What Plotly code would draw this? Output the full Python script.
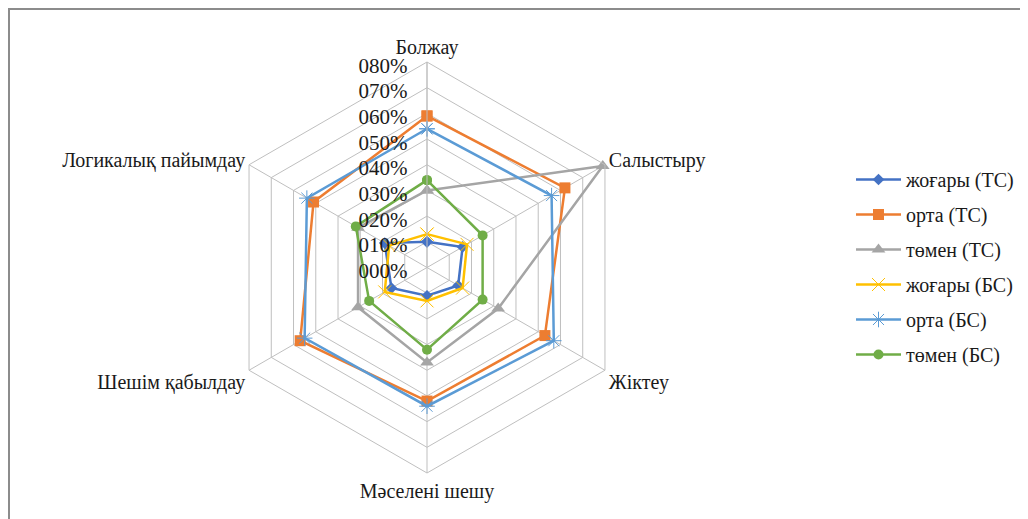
import plotly.graph_objects as go

categories = ["Болжау", "Салыстыру", "Жіктеу", "Мәселені шешу", "Шешім қабылдау", "Логикалық пайымдау"]
series_names = ["жоғары (ТС)", "орта (ТС)", "төмен (ТС)", "жоғары (БС)", "орта (БС)", "төмен (БС)"]
zhogary_ts = [0.10, 0.16, 0.14, 0.11, 0.16, 0.19]
orta_ts = [0.59, 0.62, 0.53, 0.52, 0.57, 0.51]
tomen_ts = [0.30, 0.79, 0.32, 0.37, 0.31, 0.31]
zhogary_bs = [0.13, 0.18, 0.16, 0.13, 0.19, 0.17]
orta_bs = [0.54, 0.56, 0.57, 0.54, 0.55, 0.54]
tomen_bs = [0.34, 0.25, 0.25, 0.32, 0.26, 0.32]
tick_vals = [0.0, 0.1, 0.2, 0.3, 0.4, 0.5, 0.6, 0.7, 0.8]
tick_text = ["000%", "010%", "020%", "030%", "040%", "050%", "060%", "070%", "080%"]

all_values = [zhogary_ts, orta_ts, tomen_ts, zhogary_bs, orta_bs, tomen_bs]
colors = ["#4472C4", "#ED7D31", "#A5A5A5", "#FFC000", "#5B9BD5", "#70AD47"]
symbols = ["diamond", "square", "triangle-up", "x-thin", "asterisk", "circle"]
sizes = [9, 11, 12, 13, 13, 10]

FONT = "Liberation Serif, Times New Roman, serif"

fig = go.Figure()
for i, (name, vals) in enumerate(zip(series_names, all_values)):
    thin = symbols[i] in ("x-thin", "asterisk")
    fig.add_trace(go.Scatterpolar(
        r=vals + vals[:1],
        theta=categories + categories[:1],
        mode="lines+markers",
        name=name,
        legendgroup=f"g{i}",
        line=dict(color=colors[i], width=2.5),
        marker=dict(symbol=symbols[i], size=sizes[i], color=colors[i],
                    line=dict(color=colors[i], width=1 if thin else 0)),
    ))

# page is offset by the 8px body margin
W, H = 1028, 519
cx, cy, R = 419, 259.5, 205.5
fig.update_layout(
    width=W, height=H,
    margin=dict(l=0, r=0, t=0, b=0),
    paper_bgcolor="white",
    plot_bgcolor="white",
    font=dict(family=FONT, size=19, color="#1a1a1a"),
    polar=dict(
        domain=dict(x=[(cx - R) / W, (cx + R) / W],
                    y=[(H - cy - R) / H, (H - cy + R) / H]),
        bgcolor="white",
        gridshape="linear",
        radialaxis=dict(
            range=[0, 0.8],
            tickvals=tick_vals,
            ticktext=tick_text,
            angle=90,
            side="counterclockwise",
            showline=True,
            linecolor="#BFBFBF",
            linewidth=1,
            gridcolor="#BFBFBF",
            gridwidth=1,
            ticks="",
            tickfont=dict(family=FONT, size=21, color="#1a1a1a"),
        ),
        angularaxis=dict(
            direction="clockwise",
            rotation=90,
            showline=True,
            linecolor="#BFBFBF",
            linewidth=1,
            gridcolor="#BFBFBF",
            ticks="",
            tickfont=dict(family=FONT, size=20, color="#1a1a1a"),
        ),
    ),
    legend=dict(
        x=843 / W, y=(H - 152) / H,
        xanchor="left", yanchor="top",
        tracegroupgap=6,
        itemwidth=45,
        font=dict(family=FONT, size=20, color="#1a1a1a"),
        bgcolor="rgba(0,0,0,0)",
    ),
    shapes=[
        dict(type="line", xref="paper", yref="paper", x0=0, x1=1, y0=1 - 1 / H, y1=1 - 1 / H,
             line=dict(color="#8C8C8C", width=2)),
        dict(type="line", xref="paper", yref="paper", x0=1 / W, x1=1 / W, y0=0, y1=1,
             line=dict(color="#8C8C8C", width=2)),
    ],
)

fig.write_html("out.html")
